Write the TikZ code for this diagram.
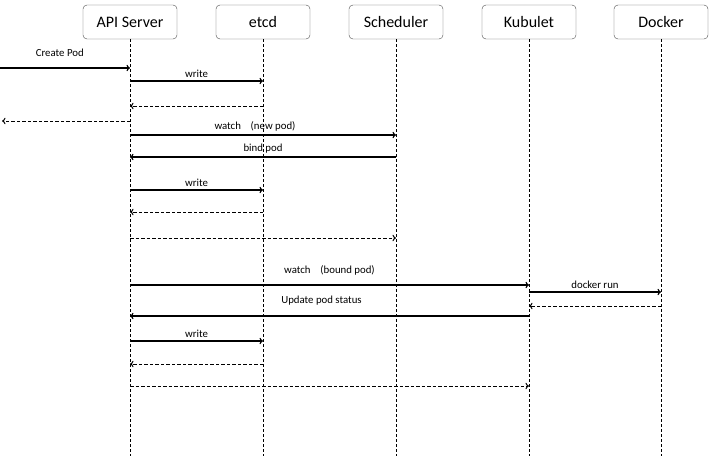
\documentclass[tikz,border=0pt]{standalone}
\usepackage{fontspec}
\setmainfont{Carlito}
\usetikzlibrary{arrows.meta}

\tikzset{
  actor/.style={draw=black!70, rounded corners=4pt, minimum width=94pt, minimum height=34pt,
    font=\fontsize{16}{18}\selectfont},
  life/.style={dash pattern=on 3pt off 2pt, line width=0.8pt},
  call/.style={line width=1.2pt, -{To[length=3.5pt,width=6.5pt]}},
  reply/.style={call, line width=1pt, dash pattern=on 3.5pt off 2pt},
  lbl/.style={font=\fontsize{10.8}{12}\selectfont, above=2pt, inner sep=1pt}
}

\begin{document}
\begin{tikzpicture}[x=1pt,y=-1pt]
  \useasboundingbox (0,0) rectangle (725,460);

  \foreach \name/\x/\txt in {api/130/API Server, etcd/263/etcd, sched/396/Scheduler,
                             kube/529/Kubulet, docker/661/Docker} {
    \node[actor] (\name) at (\x,22) {\txt};
    \coordinate (\name end) at (\x,456);
    \draw[life] (\name) -- (\name end);
  }
  \coordinate (client) at (0,68);
  \coordinate (client back) at (2,121);

  \draw[call] (client) -- (api |- client) node[lbl, pos=0.46, above=8pt] {Create Pod};
  \draw[call] (api |- 0,81) -- (etcd |- 0,81) node[lbl, midway] {write};
  \draw[reply] (etcd |- 0,106) -- (api |- 0,106);
  \draw[reply] (api |- client back) -- (client back);

  \draw[call] (api |- 0,135) -- (sched |- 0,135) node[lbl, pos=0.47] {watch\ \ \ \ (new pod)};
  \draw[call] (sched |- 0,157) -- (api |- 0,157) node[lbl, midway] {bind pod};
  \draw[call] (api |- 0,190) -- (etcd |- 0,190) node[lbl, midway] {write};
  \draw[reply] (etcd |- 0,212) -- (api |- 0,212);
  \draw[reply] (api |- 0,238) -- (sched |- 0,238);

  \draw[call] (api |- 0,285) -- (kube |- 0,285) node[lbl, midway, above=6pt] {watch\ \ \ \ (bound pod)};
  \draw[call] (kube |- 0,292) -- (docker |- 0,292) node[lbl, midway] {docker run};
  \draw[reply] (docker |- 0,306) -- (kube |- 0,306);
  \draw[call] (kube |- 0,316) -- (api |- 0,316) node[lbl, pos=0.52, above=7pt] {Update pod status};
  \draw[call] (api |- 0,341) -- (etcd |- 0,341) node[lbl, midway] {write};
  \draw[reply] (etcd |- 0,364) -- (api |- 0,364);
  \draw[reply] (api |- 0,386) -- (kube |- 0,386);
\end{tikzpicture}
\end{document}
